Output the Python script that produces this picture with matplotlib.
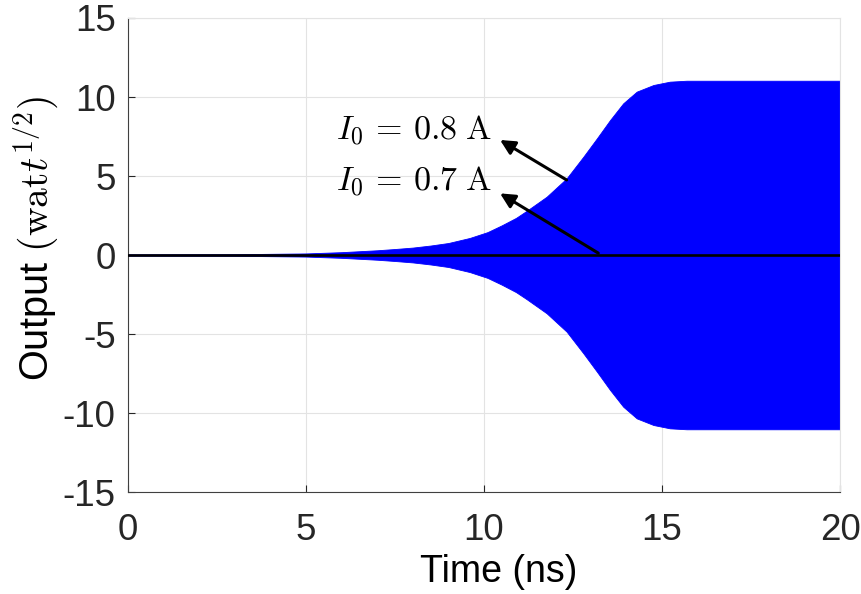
import matplotlib
matplotlib.use("Agg")
import matplotlib.pyplot as plt
import numpy as np

# Envelope of the I0 = 0.8 A output
t_env = [0, 3, 5, 6, 7, 7.5, 8, 8.5, 9, 9.6, 10.1, 10.5, 10.9, 11.2, 11.76, 12.32, 12.79,
         13.17, 13.54, 13.91, 14.29, 14.76, 15.22, 15.69, 16.5, 20]
a_env = [0.04, 0.05, 0.1, 0.18, 0.3, 0.38, 0.47, 0.6, 0.76, 1.08, 1.45, 1.88, 2.35, 2.8, 3.69, 4.85, 6.22,
         7.38, 8.54, 9.6, 10.34, 10.76, 10.97, 11.03, 11.03, 11.03]

# I0 = 0.7 A output stays at zero
t_low = [0, 20]
y_low = [0, 0]

xticks = [0, 5, 10, 15, 20]
yticks = [-15, -10, -5, 0, 5, 10, 15]

plt.rcParams['font.family'] = ['Liberation Sans', 'DejaVu Sans']
plt.rcParams['mathtext.fontset'] = 'cm'

fig = plt.figure(figsize=(8.62, 5.94), dpi=100)
ax = fig.add_axes([0.1485, 0.1717, 0.826, 0.798])

t = np.array(t_env)
a = np.array(a_env)
ax.fill_between(t, -a, a, color='#0000FF', lw=0.6, edgecolor='#0000FF', zorder=2)
ax.plot(t_low, y_low, color='black', lw=1.9, zorder=3)

ax.set_xlim(0, 20)
ax.set_ylim(-15, 15)
ax.set_xticks(xticks)
ax.set_yticks(yticks)
ax.set_xticklabels([str(v) for v in xticks])
ax.set_yticklabels([str(v) for v in yticks])
ax.tick_params(direction='in', length=5, width=0.8, colors='#262626', labelsize=26.5,
               top=False, right=False)
ax.tick_params(axis='x', pad=15)
ax.tick_params(axis='y', pad=9)
ax.grid(True, color='#e3e3e3', lw=0.8, zorder=0)
ax.set_axisbelow(True)
for s in ['left', 'bottom']:
    ax.spines[s].set_color('#404040')
    ax.spines[s].set_linewidth(0.8)
for s in ['top', 'right']:
    ax.spines[s].set_color('#e3e3e3')
    ax.spines[s].set_linewidth(0.8)

ax.set_xlabel('Time (ns)', fontsize=27, labelpad=5)
ax.xaxis.set_label_coords(0.521, -0.13)
ax.xaxis.label.set_va('top')
ax.set_ylabel(r'Output $(\mathrm{wat}t^{1/2})$', fontsize=28.5)
ax.yaxis.set_label_coords(-0.094, 0.536)

ax.text(5.84, 7.28, r'$I_0\, =\, 0.8\;\mathrm{A}$', fontsize=24.5, ha='left', va='baseline', zorder=5)
ax.text(5.84, 4.05, r'$I_0\, =\, 0.7\;\mathrm{A}$', fontsize=24.5, ha='left', va='baseline', zorder=5)

ap = dict(arrowstyle='-|>', color='black', lw=2.2, mutation_scale=22, shrinkA=0, shrinkB=0)
ax.annotate('', xy=(10.45, 7.28), xytext=(12.32, 4.75), arrowprops=ap, zorder=6)
ax.annotate('', xy=(10.45, 3.9), xytext=(13.21, 0.12), arrowprops=ap, zorder=6)

fig.savefig('out.png', dpi=100)
